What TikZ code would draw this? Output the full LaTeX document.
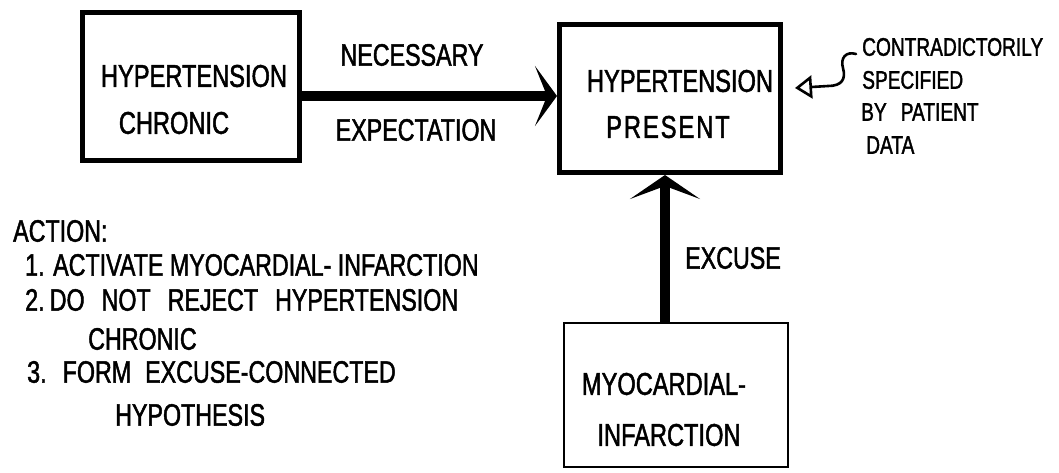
\documentclass[tikz,border=0pt]{standalone}
\usepackage{fontspec}
\setmainfont{Liberation Sans}[FakeStretch=0.75,FakeBold=1.5]
\usetikzlibrary{arrows.meta}
\begin{document}
\begin{tikzpicture}[x=1pt,y=-1pt,
  thickbox/.style={draw, line width=5pt, inner sep=0pt},
  thinbox/.style={draw, line width=2.2pt, inner sep=0pt},
  boxtxt/.style={inner sep=0pt, font=\fontsize{31.5}{36}\selectfont},
  lbl/.style={inner sep=0pt, font=\fontsize{31}{36}\selectfont},
  notetxt/.style={inner sep=0pt, anchor=west, font=\fontsize{25.5}{30}\selectfont},
  acttxt/.style={inner sep=0pt, anchor=west, font=\fontsize{31}{36}\selectfont},
  bigarrowh/.style={line width=10pt, -{Stealth[length=22pt,width=60pt,inset=12pt]}},
  bigarrowv/.style={line width=10pt, -{Stealth[length=24pt,width=70pt,inset=13pt]}},
  notearrow/.style={line width=2.6pt, line cap=round, -{Triangle[open,length=17pt,width=23pt]}}
]
\useasboundingbox (0,0) rectangle (1059,472);
\fill[white] (0,0) rectangle (1059,472);

% boxes
\node[thickbox, minimum width=217pt, minimum height=148pt] (b1) at (191,86.5) {};
\node[thickbox, minimum width=221pt, minimum height=148pt] (b2) at (670,98.5) {};
\node[thinbox, minimum width=224pt, minimum height=144pt] (b3) at (676,395) {};

% box texts
\node[boxtxt] (t1a) at (194,76) {HYPERTENSION};
\node[boxtxt] (t1b) at (174,123) {CHRONIC};
\node[boxtxt] (t2a) at (680,81) {HYPERTENSION};
\node[boxtxt] (t2b) at (668,127) {P\kern2pt R\kern2pt E\kern2pt S\kern2pt E\kern2pt N\kern2pt T};
\node[boxtxt] (t3a) at (664,384) {MYOCARDIAL-};
\node[boxtxt] (t3b) at (669,435) {INFARCTION};

% connectors
\draw[bigarrowh] ([yshift=-9.5pt]b1.east) -- ([yshift=2.5pt]b2.west);
\draw[bigarrowv] ([xshift=-11pt]b3.north) -- ([xshift=-5pt]b2.south);

% connector labels
\node[lbl] (nec) at (412,55) {NECESSARY};
\node[lbl] (exp) at (416,130) {EXPECTATION};
\node[lbl] (exc) at (733,258) {EXCUSE};

% side note
\node[notetxt] (n1) at (862,47) {CONTRADICTORILY};
\node[notetxt] (n2) at (862,80) {SPECIFIED};
\node[notetxt] (n3) at (861,112) {{\spaceskip=14pt\relax BY PATIENT}};
\node[notetxt] (n4) at (866,145) {DATA};
\coordinate (nstart) at (856,54);
\coordinate (ntip) at (795,88);
\draw[notearrow] (nstart) .. controls (846,51) and (840,58) .. (843,68)
  .. controls (846,79) and (842,86) .. (828,86) -- (ntip);

% action text
\node[acttxt] (a0) at (13,231) {{\spaceskip=10pt\relax ACTION:}};
\node[acttxt] (a1) at (25,265) {1. ACTIVATE MYOCARDIAL- INFARCTION};
\node[acttxt] (a2) at (25,300) {{\spaceskip=17pt\relax 2.\,DO NOT REJECT HYPERTENSION}};
\node[acttxt] (a3) at (88,339) {CHRONIC};
\node[acttxt] (a4) at (27,372) {{\spaceskip=14pt\relax 3. FORM EXCUSE-CONNECTED}};
\node[acttxt] (a5) at (115,415) {HYPOTHESIS};
\end{tikzpicture}
\end{document}
